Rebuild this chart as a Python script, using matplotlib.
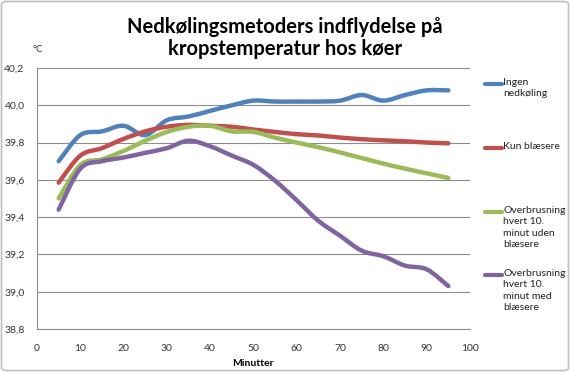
import matplotlib
matplotlib.use("Agg")
import matplotlib.pyplot as plt
from matplotlib.path import Path
from matplotlib.patches import PathPatch, FancyBboxPatch
from matplotlib.lines import Line2D

plt.rcParams['font.family'] = ['Lato', 'DejaVu Sans']

minutes = [5, 10, 15, 20, 25, 30, 35, 40, 45, 50, 55, 60, 65, 70, 75, 80, 85, 90, 95]
ingen = [39.70, 39.84, 39.86, 39.89, 39.84, 39.92, 39.94, 39.97, 40.00, 40.025, 40.02, 40.02,
         40.02, 40.025, 40.055, 40.025, 40.055, 40.08, 40.08]
kun = [39.585, 39.73, 39.77, 39.82, 39.86, 39.885, 39.895, 39.89, 39.885, 39.87, 39.857, 39.845,
       39.838, 39.827, 39.818, 39.812, 39.807, 39.80, 39.796]
uden = [39.50, 39.68, 39.71, 39.755, 39.81, 39.857, 39.885, 39.89, 39.86, 39.857, 39.826, 39.80,
        39.775, 39.747, 39.717, 39.687, 39.66, 39.635, 39.61]
med = [39.44, 39.66, 39.70, 39.72, 39.745, 39.77, 39.81, 39.78, 39.73, 39.68, 39.595, 39.49,
       39.38, 39.30, 39.22, 39.19, 39.14, 39.12, 39.03]

series_names = ["Ingen\nnedkøling", "Kun blæsere",
                "Overbrusning\nhvert 10.\nminut uden\nblæsere",
                "Overbrusning\nhvert 10.\nminut med\nblæsere"]
series_values = [ingen, kun, uden, med]
colors = ["#4F81BD", "#C0504D", "#9BBB59", "#8064A2"]
yticks = [38.8, 39.0, 39.2, 39.4, 39.6, 39.8, 40.0, 40.2]
ytick_labels = ["38,8", "39,0", "39,2", "39,4", "39,6", "39,8", "40,0", "40,2"]
xticks = [0, 10, 20, 30, 40, 50, 60, 70, 80, 90, 100]

W, H = 570, 372
fig = plt.figure(figsize=(W / 100, H / 100), dpi=100)
ax = fig.add_axes([37 / W, 1 - 329 / H, (470 - 37) / W, (329 - 68) / H])


def smooth_path(xs, ys):
    pts = list(zip(xs, ys))
    verts = [pts[0]]
    codes = [Path.MOVETO]
    n = len(pts)
    for i in range(n - 1):
        p0 = pts[i - 1] if i > 0 else pts[i]
        p1 = pts[i]
        p2 = pts[i + 1]
        p3 = pts[i + 2] if i + 2 < n else pts[i + 1]
        c1 = (p1[0] + (p2[0] - p0[0]) / 6, p1[1] + (p2[1] - p0[1]) / 6)
        c2 = (p2[0] - (p3[0] - p1[0]) / 6, p2[1] - (p3[1] - p1[1]) / 6)
        verts += [c1, c2, p2]
        codes += [Path.CURVE4] * 3
    return Path(verts, codes)


for vals, col in zip(series_values, colors):
    patch = PathPatch(smooth_path(minutes, vals), fill=False, edgecolor=col,
                      lw=3.2, capstyle='round', joinstyle='round', zorder=3)
    ax.add_patch(patch)

ax.set_xlim(0, 100)
ax.set_ylim(38.8, 40.2)
ax.set_xticks(xticks)
ax.set_yticks(yticks)
ax.set_yticklabels(ytick_labels)
ax.tick_params(axis='both', length=0, labelsize=7.5, colors='#333333')
ax.tick_params(axis='y', pad=9)
ax.tick_params(axis='x', pad=11)
ax.grid(axis='y', color='#8c8c8c', lw=0.8)
ax.set_axisbelow(True)
for s in ['top', 'right']:
    ax.spines[s].set_visible(False)
ax.spines['left'].set_color('#8c8c8c')
ax.spines['bottom'].set_color('#8c8c8c')
ax.spines['left'].set_linewidth(0.8)
ax.spines['bottom'].set_linewidth(0.8)

fig.text(285 / W, 1 - 55 / H, "Nedkølingsmetoders indflydelse på\nkropstemperatur hos køer",
         ha='center', va='baseline', fontsize=14.5, fontweight='bold', linespacing=1.12)
fig.text(33 / W, 1 - 50 / H, "°C", ha='left', va='center', fontsize=7, color='#333333')
fig.text(253 / W, 1 - 363 / H, "Minutter", ha='center', va='center', fontsize=7.5,
         fontweight='bold')

legend_y = [84, 148, 212, 275]
for name, col, ly in zip(series_names, colors, legend_y):
    fig.add_artist(Line2D([485 / W, 502 / W], [1 - ly / H, 1 - ly / H], color=col, lw=3,
                          solid_capstyle='round', transform=fig.transFigure))
    fig.text(503 / W, 1 - (ly - 6) / H, name, ha='left', va='top', fontsize=7.5,
             color='#222222', linespacing=1.33)

fig.add_artist(FancyBboxPatch((1.5 / W, 1.5 / H), (W - 3) / W, (H - 3) / H,
                              boxstyle="round,pad=0,rounding_size=0.008",
                              transform=fig.transFigure, fill=False,
                              edgecolor='#bfbfbf', lw=1.2))

fig.savefig("out.png", dpi=100)
